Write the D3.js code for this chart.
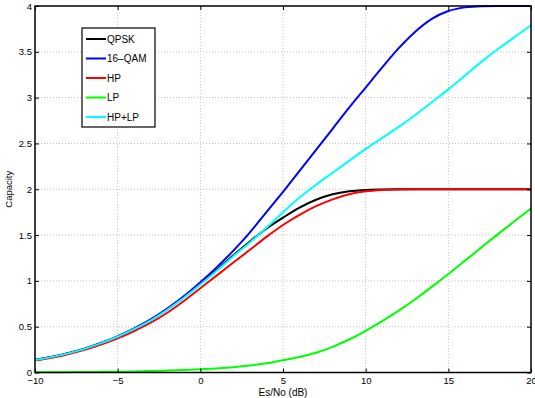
<!DOCTYPE html>
<html>
<head>
<meta charset="utf-8">
<script src="https://cdnjs.cloudflare.com/ajax/libs/d3/7.8.5/d3.min.js"></script>
<style>
  body { margin: 0; background: #fff; }
  text { font-family: "Liberation Sans", Arial, sans-serif; }
</style>
</head>
<body>
<script>
// Es/No points (dB) the curves were read at
const esNo = [-10, -9, -8, -7, -6, -5, -4, -3, -2, -1, 0, 1, 2, 3, 4, 5,
  6, 7, 8, 9, 10, 11, 12, 13, 14, 15, 16, 17, 18, 19, 20];

// capacity values
const qpsk = [0.137, 0.170, 0.211, 0.261, 0.322, 0.393, 0.479, 0.577, 0.692, 0.825, 0.97, 1.12, 1.28, 1.43, 1.57, 1.69,
  1.80, 1.885, 1.945, 1.978, 1.993, 1.998, 2.0, 2.0, 2.0, 2.0, 2.0, 2.0, 2.0, 2.0, 2.0];
const qam16 = [0.137, 0.170, 0.211, 0.261, 0.323, 0.394, 0.481, 0.58, 0.698, 0.832, 0.985, 1.15, 1.33, 1.53, 1.75, 1.97,
  2.2, 2.43, 2.66, 2.89, 3.11, 3.33, 3.54, 3.72, 3.86, 3.945, 3.985, 3.998, 4.0, 4.0, 4.0];
const hp = [0.13, 0.161, 0.2, 0.247, 0.305, 0.372, 0.452, 0.543, 0.652, 0.78, 0.92, 1.06, 1.2, 1.34, 1.48, 1.61,
  1.72, 1.815, 1.89, 1.945, 1.978, 1.993, 1.998, 2.0, 2.0, 2.0, 2.0, 2.0, 2.0, 2.0, 2.0];
const lp = [0.002, 0.003, 0.004, 0.005, 0.007, 0.009, 0.012, 0.016, 0.021, 0.027, 0.035, 0.045, 0.058, 0.076, 0.1, 0.134,
  0.17, 0.215, 0.28, 0.36, 0.455, 0.56, 0.675, 0.8, 0.935, 1.075, 1.22, 1.365, 1.51, 1.65, 1.79];
const hpLp = [0.136, 0.168, 0.209, 0.258, 0.32, 0.39, 0.475, 0.57, 0.685, 0.815, 0.96, 1.11, 1.27, 1.42, 1.58, 1.75,
  1.91, 2.05, 2.18, 2.31, 2.44, 2.56, 2.68, 2.81, 2.95, 3.09, 3.24, 3.39, 3.53, 3.66, 3.79];

const xTicks = [-10, -5, 0, 5, 10, 15, 20];
const yTicks = [0, 0.5, 1, 1.5, 2, 2.5, 3, 3.5, 4];

const series = [
  { name: 'QPSK', values: qpsk, color: '#000000' },
  { name: '16\u2013QAM', values: qam16, color: '#0000ff' },
  { name: 'HP', values: hp, color: '#ff0000' },
  { name: 'LP', values: lp, color: '#00ff00' },
  { name: 'HP+LP', values: hpLp, color: '#00ffff' }
];

const W = 535, H = 398;
const plotL = 35, plotR = 531, plotT = 6, plotB = 372.5;

const svg = d3.select('body').append('svg')
  .attr('width', W)
  .attr('height', H);

const x = d3.scaleLinear().domain([-10, 20]).range([plotL, plotR]);
const y = d3.scaleLinear().domain([0, 4]).range([plotB, plotT]);

// dotted grid
const grid = svg.append('g').attr('stroke', '#b0b0b0').attr('stroke-width', 0.8)
  .attr('stroke-dasharray', '1,2');
grid.selectAll('.vg').data(xTicks.slice(1, -1)).enter().append('line')
  .attr('x1', d => x(d)).attr('x2', d => x(d))
  .attr('y1', plotT).attr('y2', plotB);
grid.selectAll('.hg').data(yTicks.slice(1, -1)).enter().append('line')
  .attr('y1', d => y(d)).attr('y2', d => y(d))
  .attr('x1', plotL).attr('x2', plotR);

// curves
const line = d3.line()
  .x((d, i) => x(esNo[i]))
  .y(d => y(d))
  .curve(d3.curveMonotoneX);

svg.append('g').selectAll('path').data(series).enter().append('path')
  .attr('d', d => line(d.values))
  .attr('fill', 'none')
  .attr('stroke', d => d.color)
  .attr('stroke-width', 2);

// axes, ticks pointing inward like MATLAB
const fmt = d3.format('~g');
svg.append('g').attr('transform', `translate(0,${plotB})`)
  .call(d3.axisBottom(x).tickValues(xTicks).tickSizeInner(-4).tickSizeOuter(0).tickPadding(5).tickFormat(d => d < 0 ? '\u2212' + Math.abs(d) : d))
  .call(g => g.select('.domain').remove());
svg.append('g').attr('transform', `translate(0,${plotT})`)
  .call(d3.axisTop(x).tickValues(xTicks).tickSizeInner(-4).tickSizeOuter(0).tickFormat(''))
  .call(g => g.select('.domain').remove());
svg.append('g').attr('transform', `translate(${plotL},0)`)
  .call(d3.axisLeft(y).tickValues(yTicks).tickSizeInner(-4).tickSizeOuter(0).tickPadding(3).tickFormat(fmt))
  .call(g => g.select('.domain').remove());
svg.append('g').attr('transform', `translate(${plotR},0)`)
  .call(d3.axisRight(y).tickValues(yTicks).tickSizeInner(-4).tickSizeOuter(0).tickFormat(''))
  .call(g => g.select('.domain').remove());

svg.selectAll('.tick text').attr('font-size', 9.5).attr('fill', '#000');
svg.selectAll('.tick line').attr('stroke', '#000');

// frame
svg.append('rect')
  .attr('x', plotL).attr('y', plotT)
  .attr('width', plotR - plotL).attr('height', plotB - plotT)
  .attr('fill', 'none').attr('stroke', '#000').attr('stroke-width', 1.5);

// axis titles
svg.append('text')
  .attr('x', (plotL + plotR) / 2).attr('y', 396)
  .attr('text-anchor', 'middle').attr('font-size', 10)
  .text('Es/No (dB)');
svg.append('text')
  .attr('transform', `translate(12,${(plotT + plotB) / 2}) rotate(-90)`)
  .attr('text-anchor', 'middle').attr('font-size', 9.5)
  .text('Capacity');

// legend
const legend = svg.append('g');
legend.append('rect')
  .attr('x', 82).attr('y', 28).attr('width', 73).attr('height', 99)
  .attr('fill', '#fff').attr('stroke', '#000').attr('stroke-width', 1.2);
const item = legend.selectAll('.item').data(series).enter().append('g')
  .attr('transform', (d, i) => `translate(0,${39 + i * 19.5})`);
item.append('line')
  .attr('x1', 86).attr('x2', 106)
  .attr('stroke', d => d.color).attr('stroke-width', 2);
item.append('text')
  .attr('x', 107).attr('y', 3.6)
  .attr('font-size', 10)
  .text(d => d.name);
</script>
</body>
</html>
